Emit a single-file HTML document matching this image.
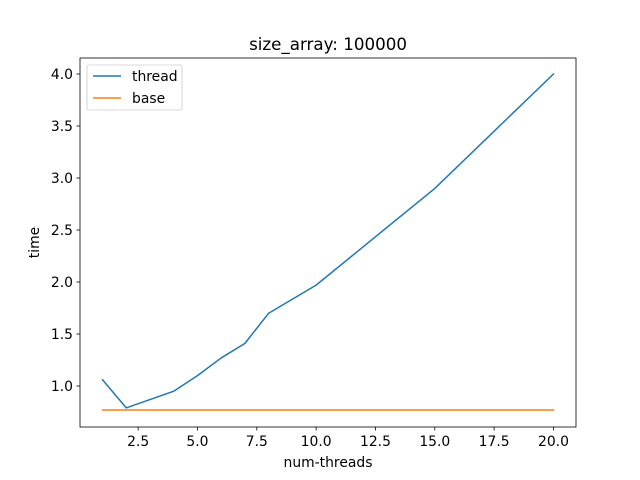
<!DOCTYPE html>
<html><head><meta charset="utf-8"><style>
body{margin:0;background:#fff;}
svg{display:block;font-family:"DejaVu Sans","Liberation Sans",sans-serif;}
</style></head><body>
<svg id="chart" width="640" height="480">
<rect width="640" height="480" fill="#fff"/>
<g id="plot"></g>
</svg>
<script>
const xsThread=[1,2,3,4,5,6,7,8,10,15,20];
const ysThread=[1.06,0.79,0.87,0.95,1.10,1.27,1.41,1.70,1.97,2.90,4.0];
const xsBase=[1,2,3,4,5,6,7,8,10,15,20];
const ysBase=[0.77,0.77,0.77,0.77,0.77,0.77,0.77,0.77,0.77,0.77,0.77];
const xTicks=[2.5,5.0,7.5,10.0,12.5,15.0,17.5,20.0];
const yTicks=[1.0,1.5,2.0,2.5,3.0,3.5,4.0];
const L=80,R=576,T=58,B=427;
const xmin=0.05,xmax=20.95,ymin=0.606,ymax=4.154;
const sx=v=>L+(v-xmin)/(xmax-xmin)*(R-L);
const sy=v=>B-(v-ymin)/(ymax-ymin)*(B-T);
const NS='http://www.w3.org/2000/svg';
const g=document.getElementById('plot');
function mk(tag,attrs,parent){const e=document.createElementNS(NS,tag);for(const k in attrs)e.setAttribute(k,attrs[k]);(parent||g).appendChild(e);return e;}
function line(xs,ys,color,name){
  const e=mk('polyline',{points:xs.map((x,i)=>sx(x)+','+sy(ys[i])).join(' '),fill:'none',stroke:color,'stroke-width':1.5,'stroke-linejoin':'round','stroke-linecap':'square'});
  
  
}
line(xsThread,ysThread,'#1f77b4','thread-line');
line(xsBase,ysBase,'#ff7f0e','base-line');
const frame=mk('rect',{x:L,y:T,width:R-L,height:B-T,fill:'none',stroke:'#000','stroke-width':0.8});


xTicks.forEach(v=>{
  const x=sx(v);
  mk('line',{x1:x,x2:x,y1:B,y2:B+3.5,stroke:'#000','stroke-width':0.8});
  const t=mk('text',{x:x,y:B+19,'text-anchor':'middle','font-size':13.9});
  t.textContent=v.toFixed(1);
  
  
});
yTicks.forEach(v=>{
  const y=sy(v);
  mk('line',{x1:L,x2:L-3.5,y1:y,y2:y,stroke:'#000','stroke-width':0.8});
  const t=mk('text',{x:L-7,y:y+5,'text-anchor':'end','font-size':13.9});
  t.textContent=v.toFixed(1);
  
  
});
const title=mk('text',{x:(L+R)/2,y:T-8,'text-anchor':'middle','font-size':16.7});
title.textContent='size_array: 100000';


const xl=mk('text',{x:(L+R)/2,y:467,'text-anchor':'middle','font-size':13.9});
xl.textContent='num-threads';


const yl=mk('text',{x:0,y:0,'text-anchor':'middle','font-size':13.9,transform:'translate(39,'+((T+B)/2)+') rotate(-90)'});
yl.textContent='time';


const lg=mk('g',{});


mk('rect',{x:87,y:65,width:95,height:45,rx:2,fill:'#fff',stroke:'#ccc','stroke-width':0.8},lg);
[['thread','#1f77b4',76],['base','#ff7f0e',98]].forEach(([n,c,y])=>{
  mk('line',{x1:93,x2:121,y1:y,y2:y,stroke:c,'stroke-width':1.5},lg);
  const t=mk('text',{x:132,y:y+5,'font-size':13.9},lg);
  t.textContent=n;
  
  
});
</script>
</body></html>
